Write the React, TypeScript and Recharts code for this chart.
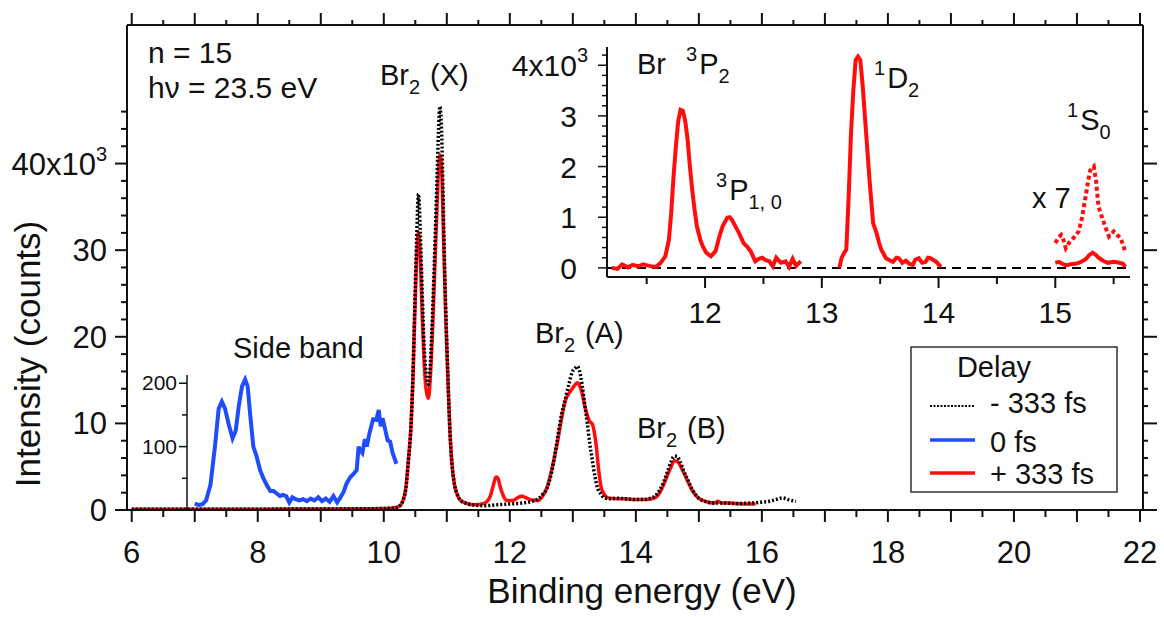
import React from "react";
import { LineChart, Line, XAxis, YAxis, ReferenceLine } from "recharts";

const W = 1164;
const H = 617;
const FONT = '"Liberation Sans", Arial, Helvetica, sans-serif';
const INK = "#111";
const RED = "#ff0d0d";
const BLUE = "#1f4cff";

// main spectrum, intensity in 10^3 counts vs binding energy (eV)
const minus333: [number, number][] = [
  [6.0, 0.1], [7.0, 0.1], [8.0, 0.1], [9.0, 0.12], [9.8, 0.15], [10.1, 0.2], [10.2, 0.3],
  [10.27, 0.6], [10.31, 1.2], [10.35, 2.5], [10.39, 5.7], [10.43, 9.5], [10.46, 15], [10.49, 23],
  [10.52, 31], [10.55, 36.5], [10.58, 32], [10.61, 25], [10.64, 19], [10.68, 15.3], [10.71, 14.5],
  [10.74, 17], [10.77, 22], [10.8, 28], [10.84, 37], [10.87, 44], [10.89, 46.6], [10.92, 43],
  [10.95, 33], [10.98, 24], [11.02, 15], [11.05, 9], [11.08, 5.5], [11.12, 3], [11.16, 1.9],
  [11.22, 1.1], [11.3, 0.8], [11.4, 0.6], [11.6, 0.5], [11.8, 0.6], [12.0, 0.7], [12.2, 0.8],
  [12.35, 1.0], [12.45, 1.3], [12.52, 1.8], [12.59, 2.5], [12.67, 4.6], [12.75, 8.0], [12.82, 11],
  [12.88, 12.8], [12.94, 14.6], [12.99, 15.9], [13.04, 16.4], [13.07, 16.6], [13.1, 16.2],
  [13.15, 14.3], [13.19, 12.1], [13.23, 10], [13.27, 7.6], [13.31, 5.7], [13.35, 3.9], [13.39, 2.6],
  [13.45, 1.8], [13.5, 1.4], [13.6, 1.3], [13.7, 1.35], [13.82, 1.3], [13.9, 1.25], [14.0, 1.2],
  [14.1, 1.2], [14.2, 1.3], [14.3, 1.6], [14.38, 2.3], [14.44, 3.2], [14.5, 4.4], [14.56, 5.6],
  [14.61, 6.2], [14.65, 6.2], [14.7, 5.6], [14.76, 4.5], [14.83, 3.4], [14.9, 2.3], [14.99, 1.4],
  [15.1, 1.0], [15.25, 0.8], [15.4, 0.8], [15.6, 0.75], [15.8, 0.8], [16.0, 0.9], [16.12, 1.0],
  [16.22, 1.2], [16.33, 1.4], [16.42, 1.2], [16.54, 1.0],
];

const plus333: [number, number][] = [
  [6.0, 0.1], [7.0, 0.1], [8.0, 0.1], [9.0, 0.12], [9.8, 0.15], [10.1, 0.2], [10.2, 0.3],
  [10.27, 0.6], [10.31, 1.2], [10.35, 2.5], [10.39, 5.7], [10.43, 9.5], [10.46, 14.5], [10.49, 22],
  [10.52, 29], [10.55, 32], [10.58, 29], [10.61, 22.5], [10.64, 17], [10.68, 13.5], [10.71, 12.9],
  [10.74, 15.5], [10.77, 20], [10.8, 26], [10.84, 34], [10.87, 39.5], [10.89, 41], [10.92, 39],
  [10.95, 31], [10.98, 23], [11.02, 14.5], [11.05, 9], [11.08, 5.5], [11.12, 3], [11.16, 1.9],
  [11.22, 1.1], [11.3, 0.8], [11.45, 0.6], [11.6, 0.8], [11.69, 1.6], [11.74, 2.9], [11.78, 3.8],
  [11.81, 3.7], [11.85, 2.6], [11.9, 1.6], [11.95, 1.1], [12.05, 1.1], [12.12, 1.4], [12.19, 1.6],
  [12.26, 1.4], [12.32, 1.2], [12.45, 1.1], [12.52, 1.6], [12.59, 2.6], [12.67, 4.8], [12.75, 7.6],
  [12.82, 10.5], [12.88, 12.6], [12.94, 13.5], [12.99, 14.0], [13.04, 14.5], [13.07, 14.7],
  [13.11, 14.3], [13.15, 13.4], [13.19, 12], [13.23, 10.9], [13.27, 10.2], [13.31, 9.9],
  [13.34, 9.0], [13.37, 7.5], [13.41, 4.6], [13.45, 2.6], [13.5, 1.8], [13.56, 1.4], [13.7, 1.3],
  [13.82, 1.3], [14.0, 1.2], [14.15, 1.2], [14.3, 1.4], [14.38, 2.0], [14.44, 2.9], [14.5, 4.0],
  [14.56, 5.0], [14.61, 5.7], [14.66, 5.6], [14.72, 4.9], [14.78, 4.0], [14.83, 3.2], [14.9, 2.2],
  [14.99, 1.4], [15.1, 1.0], [15.25, 0.8], [15.3, 1.0], [15.35, 0.85], [15.5, 0.8], [15.7, 0.7],
  [15.9, 0.7],
];

// side band at 0 fs, counts
const zeroFs: [number, number][] = [
  [7.0, 10], [7.06, 8], [7.12, 9], [7.18, 15], [7.25, 40], [7.32, 100], [7.38, 160], [7.43, 171],
  [7.48, 160], [7.54, 135], [7.6, 113], [7.65, 125], [7.7, 165], [7.75, 195], [7.8, 206],
  [7.84, 195], [7.88, 150], [7.93, 100], [7.98, 85], [8.04, 62], [8.09, 50], [8.15, 38], [8.2, 30],
  [8.25, 30], [8.3, 26], [8.35, 22], [8.4, 24], [8.45, 22], [8.5, 12], [8.55, 20], [8.6, 17],
  [8.66, 15], [8.72, 17], [8.78, 14], [8.84, 18], [8.9, 15], [8.96, 20], [9.02, 14], [9.08, 18],
  [9.14, 13], [9.2, 22], [9.26, 12], [9.3, 18], [9.36, 28], [9.41, 42], [9.47, 52], [9.52, 57],
  [9.57, 63], [9.6, 100], [9.62, 95], [9.66, 90], [9.7, 112], [9.73, 100], [9.77, 120], [9.83, 143],
  [9.88, 142], [9.92, 158], [9.95, 132], [9.98, 145], [10.02, 128], [10.06, 110], [10.1, 108],
  [10.14, 90], [10.2, 73],
];

// inset: Br atom lines (+333 fs), 10^3 counts
const br3P: [number, number][] = [
  [11.2, 0], [11.25, -0.02], [11.29, 0.07], [11.34, 0.01], [11.38, 0.06], [11.43, 0.03], [11.47, 0.07],
  [11.52, 0.04], [11.58, 0.02], [11.62, 0.1], [11.66, 0.23], [11.69, 0.55], [11.71, 1.08], [11.73, 1.8],
  [11.75, 2.4], [11.77, 2.9], [11.79, 3.12], [11.81, 3.1], [11.83, 2.9], [11.85, 2.55], [11.87, 2.0],
  [11.89, 1.54], [11.91, 1.15], [11.93, 0.82], [11.96, 0.55], [11.98, 0.43], [12.01, 0.3], [12.05, 0.23],
  [12.09, 0.33], [12.12, 0.6], [12.15, 0.82], [12.19, 0.99], [12.21, 1.0], [12.23, 0.95], [12.26, 0.82],
  [12.29, 0.69], [12.33, 0.49], [12.36, 0.42], [12.39, 0.33], [12.43, 0.13], [12.46, 0.18], [12.49, 0.2],
  [12.52, 0.15], [12.55, 0.13], [12.58, 0.03], [12.61, 0.2], [12.63, 0.15], [12.65, 0.1], [12.69, 0.13],
  [12.72, 0.02], [12.75, 0.18], [12.78, 0.04], [12.82, 0.13],
];
const br1D: [number, number][] = [
  [13.15, 0], [13.17, 0.2], [13.19, 0.29], [13.21, 0.36], [13.23, 1.4], [13.25, 2.65], [13.27, 3.5],
  [13.29, 4.1], [13.31, 4.17], [13.33, 4.1], [13.35, 3.6], [13.38, 2.65], [13.41, 1.7], [13.44, 0.88],
  [13.47, 0.68], [13.49, 0.5], [13.51, 0.36], [13.55, 0.19], [13.58, 0.15], [13.61, 0.12], [13.64, 0.2],
  [13.66, 0.19], [13.69, 0.1], [13.72, 0.14], [13.75, 0.08], [13.78, 0.06], [13.8, 0.16], [13.83, 0.19],
  [13.86, 0.1], [13.89, 0.12], [13.91, 0.2], [13.93, 0.19], [13.96, 0.15], [13.98, 0.12], [14.02, 0.02],
];
const br1S: [number, number][] = [
  [15.0, 0.1], [15.03, 0.12], [15.06, 0.08], [15.09, 0.05], [15.13, 0.07], [15.17, 0.08], [15.2, 0.1],
  [15.23, 0.13], [15.26, 0.17], [15.29, 0.25], [15.32, 0.3], [15.35, 0.25], [15.37, 0.2], [15.41, 0.14],
  [15.45, 0.1], [15.5, 0.12], [15.55, 0.1], [15.58, 0.08], [15.6, 0.02],
];
const br1Sx7: [number, number][] = [
  [15.0, 0.49], [15.03, 0.6], [15.05, 0.65], [15.07, 0.55], [15.09, 0.39], [15.12, 0.5], [15.16, 0.6],
  [15.2, 0.72], [15.23, 1.0], [15.26, 1.41], [15.28, 1.7], [15.3, 1.93], [15.33, 2.0], [15.35, 1.7],
  [15.37, 1.21], [15.4, 1.0], [15.43, 0.8], [15.46, 0.62], [15.5, 0.72], [15.53, 0.65], [15.56, 0.59],
  [15.58, 0.45], [15.6, 0.32],
];

// ticks
const mainXTicks = [6, 6.5, 7, 7.5, 8, 8.5, 9, 9.5, 10, 10.5, 11, 11.5, 12, 12.5, 13, 13.5, 14, 14.5,
  15, 15.5, 16, 16.5, 17, 17.5, 18, 18.5, 19, 19.5, 20, 20.5, 21, 21.5, 22];
const mainYTicks = [0, 2, 4, 6, 8, 10, 12, 14, 16, 18, 20, 22, 24, 26, 28, 30, 32, 34, 36, 38, 40, 42, 44, 46];
const sideYTicks = [0, 50, 100, 150, 200];
const insetXTicks = [11.5, 12, 12.5, 13, 13.5, 14, 14.5, 15, 15.5];
const insetYTicks = [0, 0.2, 0.4, 0.6, 0.8, 1, 1.2, 1.4, 1.6, 1.8, 2, 2.2, 2.4, 2.6, 2.8, 3, 3.2, 3.4,
  3.6, 3.8, 4, 4.2];

const rows = (pts: [number, number][]) => pts.map(([e, v]) => ({ e, v }));

const isInt = (v: number) => Math.abs(v - Math.round(v)) < 1e-6;

function BottomTick({ x, y, payload }: any) {
  const v = payload.value;
  const major = isInt(v);
  return (
    <g>
      <line x1={x} x2={x} y1={y} y2={y + (major ? 12 : 7)} stroke={INK} strokeWidth={2} />
      {major && Math.round(v) % 2 === 0 && (
        <text x={x} y={y + 53} textAnchor="middle" fontSize={31} fontFamily={FONT} fill={INK}>{v}</text>
      )}
    </g>
  );
}

function TopTick({ x, y, payload }: any) {
  const major = isInt(payload.value);
  return <line x1={x} x2={x} y1={y} y2={y - (major ? 12 : 5)} stroke={INK} strokeWidth={2} />;
}

function LeftTick({ x, y, payload }: any) {
  const v = payload.value;
  const major = v % 10 === 0;
  return (
    <g>
      <line x1={x - (major ? 12 : 6)} x2={x} y1={y} y2={y} stroke={INK} strokeWidth={2} />
      {major && (
        <text x={x - 20} y={y + 11} textAnchor="end" fontSize={31} fontFamily={FONT} fill={INK}>
          {v === 40 ? (
            <>
              40x10<tspan fontSize={20} dy={-14}>3</tspan>
            </>
          ) : v}
        </text>
      )}
    </g>
  );
}

function RightTick({ x, y, payload }: any) {
  const major = payload.value % 10 === 0;
  return <line x1={x} x2={x + (major ? 14 : 5)} y1={y} y2={y} stroke={INK} strokeWidth={2} />;
}

function SideTick({ x, y, payload }: any) {
  const v = payload.value;
  const major = v % 100 === 0;
  return (
    <g>
      <line x1={x - (major ? 8 : 5)} x2={x} y1={y} y2={y} stroke={INK} strokeWidth={1.5} />
      {major && v > 0 && (
        <text x={x - 10} y={y + 7} textAnchor="end" fontSize={21} fontFamily={FONT} fill={INK}>{v}</text>
      )}
    </g>
  );
}

function InsetXTick({ x, y, payload }: any) {
  const v = payload.value;
  const major = isInt(v);
  return (
    <g>
      <line x1={x} x2={x} y1={y} y2={y + (major ? 11 : 7)} stroke={INK} strokeWidth={2} />
      {major && (
        <text x={x} y={y + 46} textAnchor="middle" fontSize={30} fontFamily={FONT} fill={INK}>{v}</text>
      )}
    </g>
  );
}

function InsetYTick({ x, y, payload }: any) {
  const v = payload.value;
  const major = isInt(v);
  return (
    <g>
      <line x1={x - (major ? 9 : 5)} x2={x} y1={y} y2={y} stroke={INK} strokeWidth={1.5} />
      {major && (
        <text x={Math.round(v) === 4 ? x - 19 : x - 30} y={y + 11} textAnchor="end" fontSize={30}
          fontFamily={FONT} fill={INK}>
          {Math.round(v) === 4 ? (
            <>
              4x10<tspan fontSize={20} dy={-14}>3</tspan>
            </>
          ) : Math.round(v)}
        </text>
      )}
    </g>
  );
}

// text with optional left superscript and right subscript
function Term({ x, y, sup, main, sub, size = 29 }: any) {
  const s = Math.round(size * 0.68);
  return (
    <text x={x} y={y} fontSize={size} fontFamily={FONT} fill={INK}>
      {sup && <tspan fontSize={s} dy={-size * 0.45}>{sup}</tspan>}
      <tspan dy={sup ? size * 0.45 : 0} dx={sup ? 2 : 0}>{main}</tspan>
      {sub && <tspan fontSize={s} dy={size * 0.3}>{sub}</tspan>}
    </text>
  );
}

const abs: React.CSSProperties = { position: "absolute", left: 0, top: 0 };
const axisLine = { stroke: INK, strokeWidth: 2 };

export default function App() {
  return (
    <div style={{ position: "absolute", left: 0, top: 0, width: W, height: H, background: "#fff", fontFamily: FONT }}>
      {/* main spectrum */}
      <div style={abs}>
        <LineChart width={W} height={H} margin={{ top: 0, right: 0, bottom: 0, left: 0 }}>
          <XAxis xAxisId="b" dataKey="e" type="number" domain={[5.925, 22.048]} allowDataOverflow
            ticks={mainXTicks} interval={0} tickSize={0} tickMargin={0} tickLine={false}
            tick={BottomTick} height={107} axisLine={axisLine} />
          <XAxis xAxisId="t" orientation="top" dataKey="e" type="number" domain={[5.925, 22.048]}
            allowDataOverflow ticks={mainXTicks} interval={0} tickSize={0} tickMargin={0}
            tickLine={false} tick={TopTick} height={25} axisLine={axisLine} />
          <YAxis yAxisId="l" type="number" domain={[0, 56]} allowDataOverflow ticks={mainYTicks}
            interval={0} tickSize={0} tickMargin={0} tickLine={false} tick={LeftTick} width={127}
            axisLine={axisLine} />
          <YAxis yAxisId="r" orientation="right" type="number" domain={[0, 56]} allowDataOverflow
            ticks={mainYTicks} interval={0} tickSize={0} tickMargin={0} tickLine={false}
            tick={RightTick} width={21} axisLine={axisLine} />
          <Line xAxisId="b" yAxisId="l" data={rows(plus333)} dataKey="v" type="monotone" stroke={RED}
            strokeWidth={3.5} dot={false} activeDot={false} isAnimationActive={false} />
          <Line xAxisId="b" yAxisId="l" data={rows(minus333)} dataKey="v" type="monotone" stroke="#000"
            strokeWidth={3.5} strokeDasharray="2 2" dot={false} activeDot={false} isAnimationActive={false} />
        </LineChart>
      </div>

      {/* side band inset */}
      <div style={abs}>
        <LineChart width={W} height={H} margin={{ top: 375, right: 21, bottom: 107, left: 127 }}>
          <XAxis dataKey="e" type="number" domain={[6.877, 22.048]} allowDataOverflow hide />
          <YAxis type="number" domain={[0, 213]} allowDataOverflow ticks={sideYTicks} interval={0}
            tickSize={0} tickMargin={0} tickLine={false} tick={SideTick} width={60}
            axisLine={{ stroke: INK, strokeWidth: 1.5 }} />
          <Line data={rows(zeroFs)} dataKey="v" type="linear" stroke={BLUE} strokeWidth={4}
            dot={false} activeDot={false} isAnimationActive={false} />
        </LineChart>
      </div>

      {/* Br atom inset */}
      <div style={abs}>
        <LineChart width={W} height={H} margin={{ top: 47, right: 34, bottom: 0, left: 0 }}>
          <XAxis dataKey="e" type="number" domain={[11.16, 15.64]} allowDataOverflow ticks={insetXTicks}
            interval={0} tickSize={0} tickMargin={0} tickLine={false} tick={InsetXTick} height={340}
            axisLine={axisLine} />
          <YAxis type="number" domain={[-0.18, 4.36]} allowDataOverflow ticks={insetYTicks} interval={0}
            tickSize={0} tickMargin={0} tickLine={false} tick={InsetYTick} width={607}
            axisLine={axisLine} />
          <ReferenceLine y={0} stroke="#000" strokeWidth={2} strokeDasharray="9 6" />
          <Line data={rows(br3P)} dataKey="v" type="linear" stroke={RED} strokeWidth={4}
            dot={false} activeDot={false} isAnimationActive={false} />
          <Line data={rows(br1D)} dataKey="v" type="linear" stroke={RED} strokeWidth={4}
            dot={false} activeDot={false} isAnimationActive={false} />
          <Line data={rows(br1S)} dataKey="v" type="linear" stroke={RED} strokeWidth={4}
            dot={false} activeDot={false} isAnimationActive={false} />
          <Line data={rows(br1Sx7)} dataKey="v" type="linear" stroke={RED} strokeWidth={4}
            strokeDasharray="4 3" dot={false} activeDot={false} isAnimationActive={false} />
        </LineChart>
      </div>

      {/* annotations, titles and legend */}
      <svg style={{ ...abs, pointerEvents: "none" }} width={W} height={H}>
        <text x={40} y={354} transform="rotate(-90 40 354)" textAnchor="middle" fontSize={35}
          fontFamily={FONT} fill={INK}>Intensity (counts)</text>
        <text x={642} y={603} textAnchor="middle" fontSize={35} fontFamily={FONT} fill={INK}>
          Binding energy (eV)</text>

        <text x={148} y={63} fontSize={30} fontFamily={FONT} fill={INK}>n = 15</text>
        <text x={148} y={98} fontSize={30} fontFamily={FONT} fill={INK}>hν = 23.5 eV</text>
        <text x={233} y={358} fontSize={29} fontFamily={FONT} fill={INK}>Side band</text>

        <Term x={380} y={85} main="Br" sub="2" />
        <text x={430} y={85} fontSize={29} fontFamily={FONT} fill={INK}>(X)</text>
        <Term x={535} y={343} main="Br" sub="2" />
        <text x={585} y={343} fontSize={29} fontFamily={FONT} fill={INK}>(A)</text>
        <Term x={637} y={438} main="Br" sub="2" />
        <text x={687} y={438} fontSize={29} fontFamily={FONT} fill={INK}>(B)</text>

        <text x={637} y={74} fontSize={29} fontFamily={FONT} fill={INK}>Br</text>
        <Term x={686} y={74} sup="3" main="P" sub="2" />
        <Term x={716} y={200} sup="3" main="P" sub="1, 0" />
        <Term x={874} y={88} sup="1" main="D" sub="2" />
        <Term x={1067} y={130} sup="1" main="S" sub="0" />
        <text x={1032} y={208} fontSize={29} fontFamily={FONT} fill={INK}>x 7</text>

        <g>
          <rect x={911} y={347} width={206} height={145} fill="#fff" stroke="#333" strokeWidth={1.5} />
          <text x={994} y={377} textAnchor="middle" fontSize={29} fontFamily={FONT} fill={INK}>Delay</text>
          <line x1={930} x2={975} y1={406} y2={406} stroke="#000" strokeWidth={2} strokeDasharray="2 1.5" />
          <text x={990} y={413} fontSize={29} fontFamily={FONT} fill={INK}>- 333 fs</text>
          <line x1={930} x2={975} y1={440} y2={440} stroke={BLUE} strokeWidth={3.5} />
          <text x={990} y={452} fontSize={29} fontFamily={FONT} fill={INK}>0 fs</text>
          <line x1={930} x2={975} y1={473} y2={473} stroke={RED} strokeWidth={3.5} />
          <text x={990} y={484} fontSize={29} fontFamily={FONT} fill={INK}>+ 333 fs</text>
        </g>
      </svg>
    </div>
  );
}
